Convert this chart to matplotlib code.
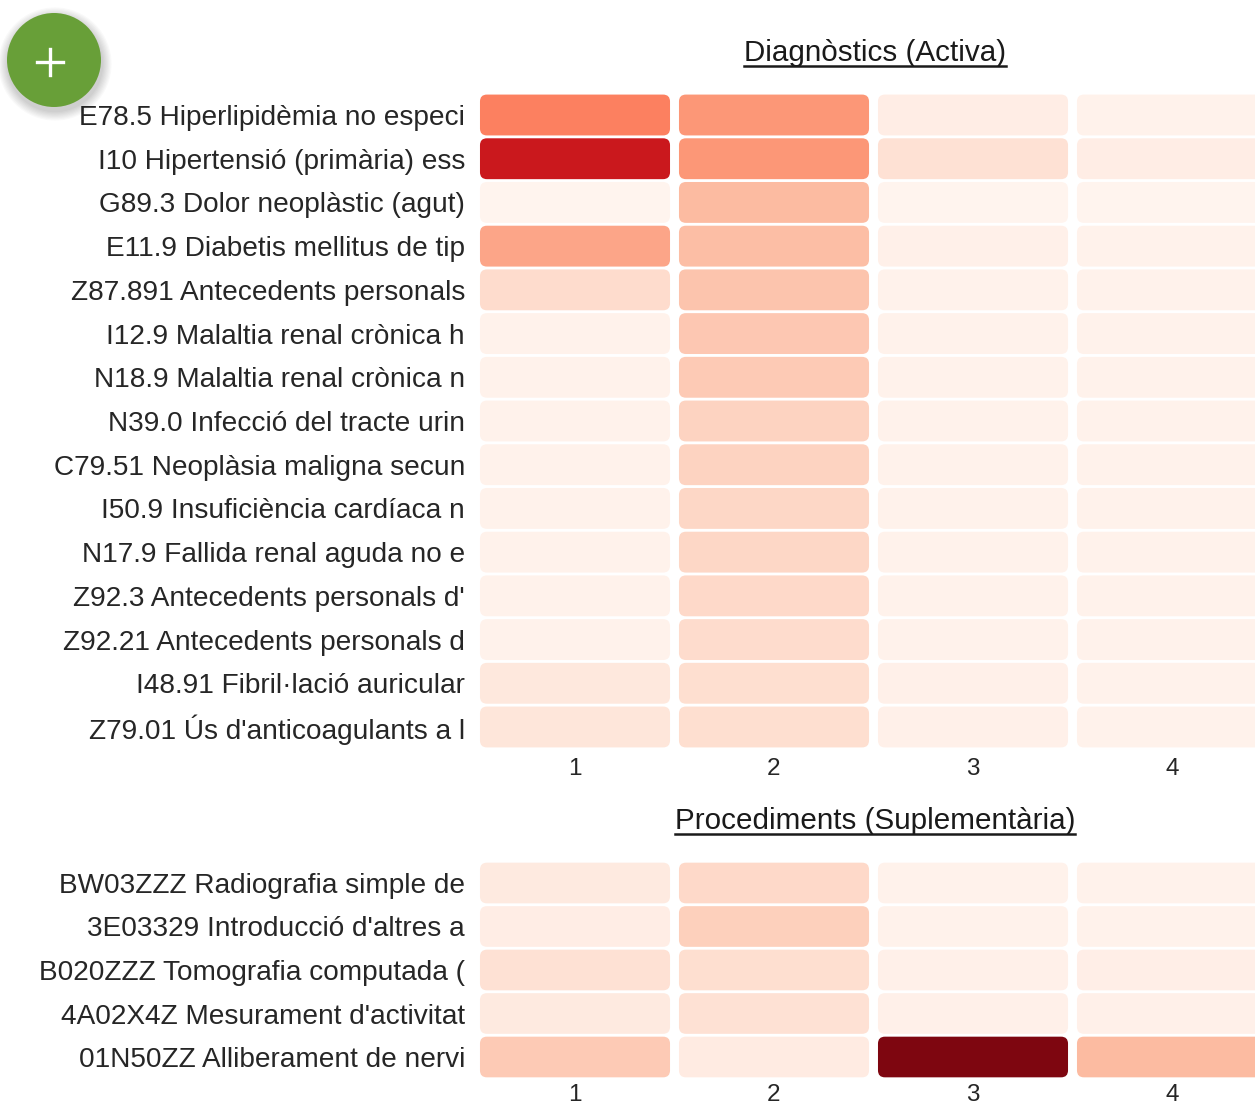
import numpy as np
import matplotlib
matplotlib.use("Agg")
import matplotlib.pyplot as plt
from matplotlib.patches import FancyBboxPatch, Circle
from matplotlib.lines import Line2D

plt.rcParams['font.family'] = ['Liberation Sans', 'DejaVu Sans']

columns = ["1", "2", "3", "4"]

diag_labels = [
    "E78.5 Hiperlipidèmia no especi",
    "I10 Hipertensió (primària) ess",
    "G89.3 Dolor neoplàstic (agut)",
    "E11.9 Diabetis mellitus de tip",
    "Z87.891 Antecedents personals",
    "I12.9 Malaltia renal crònica h",
    "N18.9 Malaltia renal crònica n",
    "N39.0 Infecció del tracte urin",
    "C79.51 Neoplàsia maligna secun",
    "I50.9 Insuficiència cardíaca n",
    "N17.9 Fallida renal aguda no e",
    "Z92.3 Antecedents personals d'",
    "Z92.21 Antecedents personals d",
    "I48.91 Fibril·lació auricular",
    "Z79.01 Ús d'anticoagulants a l",
]
diag_col1 = [0.43, 0.75, 0.01, 0.32, 0.14, 0.02, 0.02, 0.02, 0.02, 0.02, 0.02, 0.02, 0.02, 0.08, 0.09]
diag_col2 = [0.36, 0.36, 0.25, 0.24, 0.22, 0.21, 0.20, 0.17, 0.17, 0.16, 0.16, 0.15, 0.14, 0.13, 0.13]
diag_col3 = [0.05, 0.12, 0.01, 0.03, 0.02, 0.02, 0.02, 0.02, 0.02, 0.02, 0.02, 0.02, 0.02, 0.03, 0.03]
diag_col4 = [0.02, 0.05, 0.01, 0.02, 0.02, 0.02, 0.02, 0.02, 0.02, 0.02, 0.02, 0.02, 0.02, 0.02, 0.02]

proc_labels = [
    "BW03ZZZ Radiografia simple de",
    "3E03329 Introducció d'altres a",
    "B020ZZZ Tomografia computada (",
    "4A02X4Z Mesurament d'activitat",
    "01N50ZZ Alliberament de nervi",
]
proc_col1 = [0.07, 0.05, 0.12, 0.07, 0.20]
proc_col2 = [0.15, 0.18, 0.13, 0.12, 0.06]
proc_col3 = [0.02, 0.02, 0.03, 0.03, 0.95]
proc_col4 = [0.02, 0.02, 0.04, 0.03, 0.25]

W, H = 1255, 1107
fig = plt.figure(figsize=(W / 100, H / 100), dpi=100)
cmap = plt.get_cmap("Reds")
text_color = "#262626"


def draw_heat(ax, labels, cols, row_px, xpad):
    data = np.array(cols).T  # rows x columns
    nrow, ncol = data.shape
    aspect = 199.0 / row_px
    for r in range(nrow):
        for c in range(ncol):
            w, h = 0.955, 0.935
            box = FancyBboxPatch((c - w / 2, r - h / 2), w, h,
                                 boxstyle="round,pad=0,rounding_size=0.035",
                                 mutation_aspect=aspect,
                                 facecolor=cmap(data[r, c]), edgecolor="none")
            ax.add_patch(box)
    ax.set_xlim(-0.5, ncol - 0.5)
    ax.set_ylim(nrow - 0.5, -0.5)
    ax.set_yticks(range(nrow))
    ax.set_yticklabels(labels, fontsize=20.2, color=text_color)
    ax.set_xticks(range(ncol))
    ax.set_xticklabels(columns, fontsize=17.5, color=text_color)
    ax.tick_params(length=0, axis="y", pad=7.6)
    ax.tick_params(length=0, axis="x", pad=xpad)
    for s in ax.spines.values():
        s.set_visible(False)


# axes placed in pixel terms of the screenshot
ax1 = fig.add_axes([475.5 / W, 1 - 748.85 / H, 796 / W, 655.7 / H])
draw_heat(ax1, diag_labels, [diag_col1, diag_col2, diag_col3, diag_col4], 43.7, 6.5)

ax2 = fig.add_axes([475.5 / W, 1 - 1078.75 / H, 796 / W, 217.5 / H])
draw_heat(ax2, proc_labels, [proc_col1, proc_col2, proc_col3, proc_col4], 43.5, 4.0)

titles = [("Diagnòstics (Activa)", 61), ("Procediments (Suplementària)", 829)]
tobjs = []
for txt, base in titles:
    t = fig.text(875 / W, 1 - base / H, txt, ha="center", va="baseline",
                 fontsize=21.3, color="#1a1a1a")
    tobjs.append((t, base))

fig.canvas.draw()
renderer = fig.canvas.get_renderer()
for t, base in tobjs:
    bb = t.get_window_extent(renderer)
    y = (H - base - 5) / 100
    fig.add_artist(Line2D([bb.x0 / 100, bb.x1 / 100], [y, y], color="#1a1a1a",
                          lw=1.8, transform=fig.dpi_scale_trans))

# floating green "+" button with soft shadow
cx, cy, rad = 54, 60, 47
for i in range(8, 0, -1):
    fig.add_artist(Circle(((cx + 1) / 100, (H - cy - 4) / 100), (rad + i * 1.2) / 100,
                          transform=fig.dpi_scale_trans, facecolor="black",
                          alpha=0.025, edgecolor="none"))
fig.add_artist(Circle((cx / 100, (H - cy) / 100), rad / 100,
                      transform=fig.dpi_scale_trans, facecolor="#689f38", edgecolor="none"))
px, py, arm = 50, 61.5, 13
fig.add_artist(Line2D([(px - arm) / 100, (px + arm) / 100], [(H - py) / 100] * 2,
                      color="white", lw=2.4, transform=fig.dpi_scale_trans))
fig.add_artist(Line2D([px / 100] * 2, [(H - py - arm) / 100, (H - py + arm) / 100],
                      color="white", lw=2.4, transform=fig.dpi_scale_trans))

fig.savefig("out.png", dpi=100, facecolor="white")
